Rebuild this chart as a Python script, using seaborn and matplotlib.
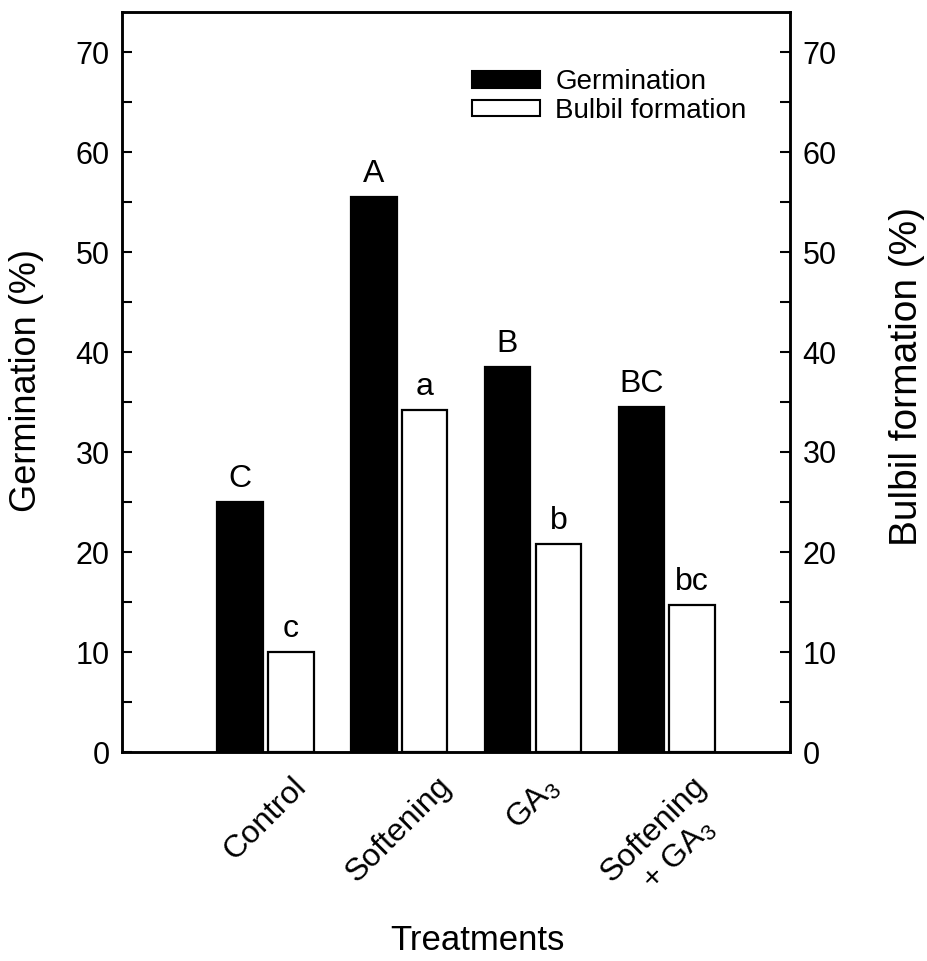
import matplotlib
matplotlib.use('Agg')
import matplotlib.pyplot as plt
import seaborn as sns
import pandas as pd
from matplotlib.ticker import MultipleLocator

treatments = ['Control', 'Softening', 'GA$_3$', 'Softening\n+ GA$_3$']
germination = [25.0, 55.5, 38.5, 34.5]
bulbil = [10.0, 34.2, 20.8, 14.7]
germ_letters = ['C', 'A', 'B', 'BC']
bulbil_letters = ['c', 'a', 'b', 'bc']
series = ['Germination', 'Bulbil formation']

df = pd.DataFrame({
    'Treatment': treatments * 2,
    'Value': germination + bulbil,
    'Series': [series[0]] * len(treatments) + [series[1]] * len(treatments),
})

sns.set_style('ticks')
plt.rcParams['font.family'] = ['Liberation Sans', 'DejaVu Sans']
plt.rcParams['mathtext.fontset'] = 'custom'
plt.rcParams['mathtext.rm'] = 'Liberation Sans'
plt.rcParams['mathtext.it'] = 'Liberation Sans:italic'
plt.rcParams['mathtext.bf'] = 'Liberation Sans:bold'
for k in ['text.color', 'axes.labelcolor', 'xtick.color', 'ytick.color', 'axes.edgecolor']:
    plt.rcParams[k] = 'black'

W, H = 928, 961
fig = plt.figure(figsize=(W / 100, H / 100), dpi=100)
ax = fig.add_axes([122 / W, 1 - 752 / H, (790 - 122) / W, (752 - 12) / H])

sns.barplot(data=df, x='Treatment', y='Value', hue='Series',
            palette={series[0]: 'black', series[1]: 'white'},
            edgecolor='black', linewidth=1.6, width=0.76, gap=0.1,
            ax=ax, legend=True)

ax.set_ylim(0, 74)
ax.set_xlim(-1.07, 3.92)
ax.yaxis.set_major_locator(MultipleLocator(10))
ax.yaxis.set_minor_locator(MultipleLocator(5))
ax.tick_params(axis='y', which='major', direction='in', length=7, width=1.5, labelsize=22, pad=9)
ax.tick_params(axis='y', which='minor', direction='in', length=7, width=1.5)
ax.tick_params(axis='x', length=0, labelsize=23, pad=14)
for lab in ax.get_xticklabels():
    lab.set_rotation(45)
    lab.set_ha('center')
    lab.set_multialignment('center')
for s in ax.spines.values():
    s.set_linewidth(1.8)
    s.set_visible(True)

ax.set_ylabel('')
ax.set_xlabel('')
fig.text(27 / W, 1 - 381 / H, 'Germination (%)', rotation=90, ha='center', va='center', fontsize=26)
fig.text(907 / W, 1 - 377 / H, 'Bulbil formation (%)', rotation=90, ha='center', va='center', fontsize=28)
fig.text(477 / W, 1 - 940 / H, 'Treatments', ha='center', va='center', fontsize=25)

for container, letters in zip(ax.containers, [germ_letters, bulbil_letters]):
    for bar, letter in zip(container, letters):
        ax.annotate(letter, (bar.get_x() + bar.get_width() / 2, bar.get_height()),
                    xytext=(0, 6), textcoords='offset points',
                    ha='center', va='bottom', fontsize=23)

leg = ax.legend(loc='upper left', bbox_to_anchor=(472 / W, 1 - 69 / H),
                bbox_transform=fig.transFigure, frameon=False, fontsize=20,
                handlelength=2.45, handleheight=0.55, handletextpad=0.55,
                labelspacing=0.1, borderpad=0, borderaxespad=0)
for h in leg.legend_handles:
    h.set_edgecolor('black')
    h.set_linewidth(1.5)

ax2 = ax.twinx()
ax2.set_ylim(ax.get_ylim())
ax2.yaxis.set_major_locator(MultipleLocator(10))
ax2.yaxis.set_minor_locator(MultipleLocator(5))
ax2.tick_params(axis='y', which='major', direction='in', length=7, width=1.5, labelsize=22, pad=9)
ax2.tick_params(axis='y', which='minor', direction='in', length=7, width=1.5)
for s in ax2.spines.values():
    s.set_linewidth(1.8)

fig.savefig('out.png', dpi=100)
